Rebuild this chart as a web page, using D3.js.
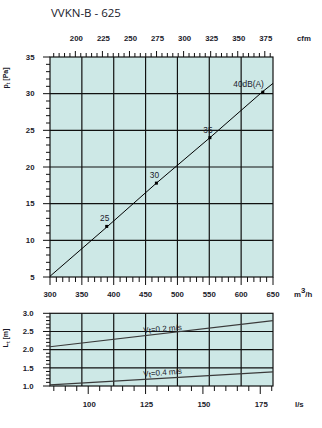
<!DOCTYPE html>
<html>
<head>
<meta charset="utf-8">
<script src="https://cdn.jsdelivr.net/npm/d3@7"></script>
<style>
  html, body { margin: 0; padding: 0; background: #fff; }
  svg { display: block; }
  text { font-family: "Liberation Sans", Arial, sans-serif; fill: #1a1a2a; }
</style>
</head>
<body>
<svg id="chart" width="322" height="428"></svg>
<script>
// Fan curve: total pressure vs. air flow
const flowPoints = [300, 389, 467, 551, 634, 650];          // m3/h
const pressurePoints = [5.1, 11.8, 17.8, 24.0, 30.3, 31.4];  // Pa

// Sound-level markers on the curve
const soundFlows = [389, 467, 551, 634];
const soundPressures = [11.9, 17.8, 24.0, 30.2];
const soundLabels = ["25", "30", "35", "40dB(A)"];

// Throw length lines
const throwFlows = [300, 650];                 // m3/h
const throwSeries = [
  { label: "0.2 m/s", values: [2.08, 2.80] },
  { label: "0.4 m/s", values: [1.03, 1.39] }
];

// Axis ticks
const flowTicks = [300, 350, 400, 450, 500, 550, 600, 650];
const cfmTicks = [200, 225, 250, 275, 300, 325, 350, 375];
const lsTicks = [100, 125, 150, 175];
const pressureTicks = [5, 10, 15, 20, 25, 30, 35];
const throwTicks = [1.0, 1.5, 2.0, 2.5, 3.0];

const CFM = 1.699;  // m3/h per cfm
const LS = 3.6;     // m3/h per l/s

const svg = d3.select("#chart");
const bg = "#cde8e6";
const ink = "#111";

const left = 50, right = 273;
const mainTop = 57, mainBottom = 277;
const lowTop = 313.3, lowBottom = 386;

const x = d3.scaleLinear().domain([300, 650]).range([left, right]);
const xCfm = d3.scaleLinear().domain([300 / CFM, 650 / CFM]).range([left, right]);
const xLs = d3.scaleLinear().domain([300 / LS, 650 / LS]).range([left, right]);
const y = d3.scaleLinear().domain([5, 35]).range([mainBottom, mainTop]);
const yLow = d3.scaleLinear().domain([1, 3]).range([lowBottom, lowTop]);

// Title
svg.append("text").attr("x", 51).attr("y", 17)
  .style("font-family", "'Open Sans', sans-serif").style("font-size", "11.5px")
  .text("VVKN-B - 625");

function panel(top, bottom) {
  svg.append("rect").attr("x", left).attr("y", top)
    .attr("width", right - left).attr("height", bottom - top).attr("fill", bg);
}
panel(mainTop, mainBottom);
panel(lowTop, lowBottom);

const tickFont = { "font-size": "7.8px", "font-weight": "bold" };
function styleText(sel, st) { Object.entries(st).forEach(([k, v]) => sel.style(k, v)); return sel; }

// ---------- main panel ----------
const gMain = svg.append("g");
// grid
gMain.selectAll(".vg").data(flowTicks.slice(1, -1)).enter().append("line")
  .attr("x1", d => x(d)).attr("x2", d => x(d)).attr("y1", mainTop).attr("y2", mainBottom)
  .attr("stroke", ink).attr("stroke-width", 1.2);
gMain.selectAll(".hg").data(pressureTicks.slice(1, -1)).enter().append("line")
  .attr("x1", left).attr("x2", right).attr("y1", d => y(d)).attr("y2", d => y(d))
  .attr("stroke", ink).attr("stroke-width", 1.2);
// frame
gMain.append("rect").attr("x", left).attr("y", mainTop).attr("width", right - left)
  .attr("height", mainBottom - mainTop).attr("fill", "none").attr("stroke", ink).attr("stroke-width", 1.2);

// left axis ticks
const pMinor = d3.range(5, 35.01, 1);
gMain.selectAll(".lt").data(pMinor).enter().append("line")
  .attr("x1", d => left - (d % 5 === 0 ? 7 : 4)).attr("x2", left)
  .attr("y1", d => y(d)).attr("y2", d => y(d)).attr("stroke", ink).attr("stroke-width", 1);
styleText(gMain.selectAll(".ll").data(pressureTicks).enter().append("text")
  .attr("x", 34.5).attr("y", d => y(d)).attr("dy", "0.35em").attr("text-anchor", "end")
  .text(d => d), tickFont);

// bottom axis m3/h
const fMinor = d3.range(300, 650.01, 10);
gMain.selectAll(".bt").data(fMinor).enter().append("line")
  .attr("x1", d => x(d)).attr("x2", d => x(d)).attr("y1", mainBottom)
  .attr("y2", d => mainBottom + (d % 50 === 0 ? 8 : 5)).attr("stroke", ink).attr("stroke-width", 1);
styleText(gMain.selectAll(".bl").data(flowTicks).enter().append("text")
  .attr("x", d => x(d)).attr("y", 296.5).attr("text-anchor", "middle").text(d => d), tickFont);
const m3 = styleText(gMain.append("text").attr("x", 294).attr("y", 296.5), tickFont);
m3.append("tspan").text("m");
m3.append("tspan").attr("dy", -4).text("3");
m3.append("tspan").attr("dy", 4).text("/h");

// top axis cfm
const cMinor = d3.range(180, 380.01, 5);
gMain.selectAll(".tt").data(cMinor).enter().append("line")
  .attr("x1", d => xCfm(d)).attr("x2", d => xCfm(d)).attr("y1", mainTop)
  .attr("y2", d => mainTop - (d % 25 === 0 ? 6 : 4)).attr("stroke", ink).attr("stroke-width", 1);
styleText(gMain.selectAll(".tl").data(cfmTicks).enter().append("text")
  .attr("x", d => xCfm(d) + 1).attr("y", 40.5).attr("text-anchor", "middle").text(d => d), tickFont);
styleText(gMain.append("text").attr("x", 297).attr("y", 40.5).text("cfm"), tickFont);

// axis title
const pt = styleText(svg.append("text").attr("transform", "translate(8,78) rotate(-90)")
  .attr("text-anchor", "middle"), { "font-size": "7px", "font-weight": "bold" });
pt.append("tspan").text("p");
pt.append("tspan").attr("dy", 2).style("font-size", "5px").text("t");
pt.append("tspan").attr("dy", -2).text(" [Pa]");

// curve
gMain.append("path")
  .datum(flowPoints.map((f, i) => [f, pressurePoints[i]]))
  .attr("d", d3.line().x(d => x(d[0])).y(d => y(d[1])))
  .attr("fill", "none").attr("stroke", "#000").attr("stroke-width", 1);

gMain.selectAll(".pt").data(soundFlows).enter().append("rect")
  .attr("x", d => x(d) - 1.5).attr("y", (d, i) => y(soundPressures[i]) - 1.5)
  .attr("width", 3).attr("height", 3).attr("fill", "#000");
gMain.selectAll(".sl").data(soundFlows).enter().append("text")
  .attr("x", (d, i) => i === 3 ? x(d) + 1 : x(d) - 2)
  .attr("y", (d, i) => y(soundPressures[i]) - 5)
  .attr("text-anchor", (d, i) => i === 3 ? "end" : "middle")
  .style("font-size", "8.3px")
  .text((d, i) => soundLabels[i]);

// ---------- throw panel ----------
const gLow = svg.append("g");
gLow.selectAll(".vg").data(flowTicks.slice(1, -1)).enter().append("line")
  .attr("x1", d => x(d)).attr("x2", d => x(d)).attr("y1", lowTop).attr("y2", lowBottom)
  .attr("stroke", ink).attr("stroke-width", 1.2);
gLow.selectAll(".hg").data(throwTicks.slice(1, -1)).enter().append("line")
  .attr("x1", left).attr("x2", right).attr("y1", d => yLow(d)).attr("y2", d => yLow(d))
  .attr("stroke", ink).attr("stroke-width", 1.2);
gLow.append("rect").attr("x", left).attr("y", lowTop).attr("width", right - left)
  .attr("height", lowBottom - lowTop).attr("fill", "none").attr("stroke", ink).attr("stroke-width", 1.2);

const tMinor = d3.range(1, 3.001, 0.1);
gLow.selectAll(".lt").data(tMinor).enter().append("line")
  .attr("x1", (d, i) => left - (i % 5 === 0 ? 7 : 4)).attr("x2", left)
  .attr("y1", d => yLow(d)).attr("y2", d => yLow(d)).attr("stroke", ink).attr("stroke-width", 1);
styleText(gLow.selectAll(".ll").data(throwTicks).enter().append("text")
  .attr("x", 33.5).attr("y", d => yLow(d)).attr("dy", "0.35em").attr("text-anchor", "end")
  .text(d => d.toFixed(1)), tickFont);

const lMinor = d3.range(85, 180.01, 5);
gLow.selectAll(".bt").data(lMinor).enter().append("line")
  .attr("x1", d => xLs(d)).attr("x2", d => xLs(d)).attr("y1", lowBottom)
  .attr("y2", d => lowBottom + (d % 25 === 0 ? 8 : 5)).attr("stroke", ink).attr("stroke-width", 1);
styleText(gLow.selectAll(".bl").data(lsTicks).enter().append("text")
  .attr("x", d => xLs(d) + 1).attr("y", 406.5).attr("text-anchor", "middle").text(d => d), tickFont);
styleText(gLow.append("text").attr("x", 295).attr("y", 406.5).text("l/s"), tickFont);

const lt = styleText(svg.append("text").attr("transform", "translate(8,338) rotate(-90)")
  .attr("text-anchor", "middle"), { "font-size": "7px", "font-weight": "bold" });
lt.append("tspan").text("L");
lt.append("tspan").attr("dy", 2).style("font-size", "5px").text("t");
lt.append("tspan").attr("dy", -2).text(" [m]");

throwSeries.forEach(s => {
  gLow.append("path")
    .datum(throwFlows.map((f, i) => [f, s.values[i]]))
    .attr("d", d3.line().x(d => x(d[0])).y(d => yLow(d[1])))
    .attr("fill", "none").attr("stroke", "#3a3a3a").attr("stroke-width", 1.2);
  // label sits along the line, near 450 m3/h
  const f0 = 450;
  const v0 = s.values[0] + (s.values[1] - s.values[0]) * (f0 - 300) / 350;
  const t = gLow.append("text")
    .attr("transform", `translate(${x(f0) - 2},${yLow(v0) - 2.5}) rotate(-4.5)`)
    .style("font-size", "8px");
  t.append("tspan").text("V");
  t.append("tspan").attr("dy", 1).text("t");
  t.append("tspan").attr("dy", -1).text("=" + s.label);
});
</script>
</body>
</html>
